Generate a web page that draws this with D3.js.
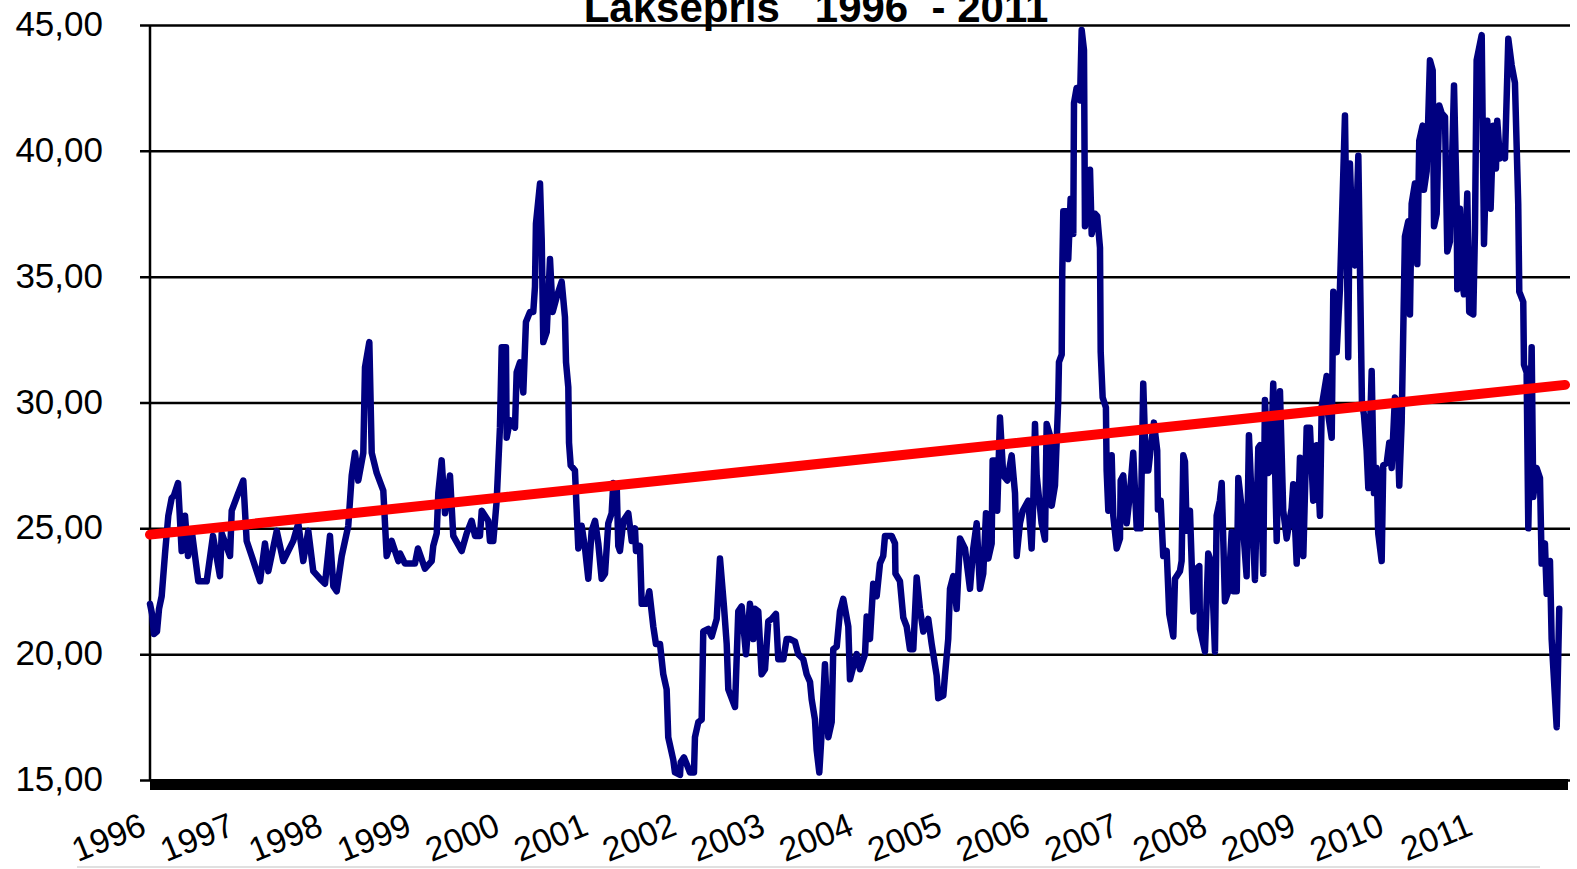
<!DOCTYPE html>
<html>
<head>
<meta charset="utf-8">
<script src="https://cdn.jsdelivr.net/npm/d3@7"></script>
<style>
  body { margin: 0; background: #fff; }
  svg { display: block; font-family: "Liberation Sans", Arial, sans-serif; }
</style>
</head>
<body>
<div id="chart"></div>
<script>
// weekly salmon price (decimal year, NOK/kg)
const dates = [
  1996.000,1996.023,1996.045,1996.079,1996.102,1996.132,1996.170,1996.207,1996.245,1996.271,
  1996.317,1996.358,1996.396,1996.430,1996.472,1996.546,1996.641,1996.712,1996.791,1996.811,
  1996.905,1996.924,1996.998,1997.055,1997.093,1997.150,1997.244,1997.300,1997.338,1997.433,
  1997.507,1997.620,1997.677,1997.733,1997.790,1997.846,1997.922,1997.979,1998.035,1998.073,
  1998.111,1998.168,1998.242,1998.281,1998.318,1998.355,1998.412,1998.431,1998.480,1998.507,
  1998.563,1998.638,1998.676,1998.733,1998.808,1998.827,1998.883,1998.996,1999.030,1999.109,
  1999.185,1999.203,1999.242,1999.260,1999.298,1999.336,1999.392,1999.429,1999.524,1999.581,
  1999.637,1999.675,1999.731,1999.751,1999.825,1999.844,1999.882,1999.920,1999.957,1999.977,
  2000.025,2000.033,2000.071,2000.127,2000.146,2000.184,2000.221,2000.251,2000.297,2000.334,
  2000.353,2000.364,2000.410,2000.429,2000.447,2000.486,2000.523,2000.553,2000.599,2000.655,
  2000.692,2000.704,2000.730,2000.738,2000.757,2000.805,2000.843,2000.881,2000.919,2000.956,
  2000.994,2001.032,2001.069,2001.107,2001.145,2001.182,2001.220,2001.239,2001.277,2001.295,
  2001.314,2001.352,2001.408,2001.447,2001.484,2001.495,2001.540,2001.560,2001.616,2001.646,
  2001.691,2001.721,2001.767,2001.804,2001.842,2001.860,2001.917,2001.936,2001.993,2002.001,
  2002.038,2002.106,2002.151,2002.162,2002.200,2002.238,2002.256,2002.313,2002.351,2002.408,
  2002.445,2002.490,2002.521,2002.539,2002.615,2002.652,2002.690,2002.739,2002.784,2002.822,
  2002.841,2002.878,2002.916,2002.954,2002.991,2003.030,2003.078,2003.104,2003.161,2003.199,
  2003.237,2003.293,2003.330,2003.387,2003.425,2003.463,2003.482,2003.519,2003.538,2003.568,
  2003.595,2003.632,2003.670,2003.708,2003.726,2003.765,2003.802,2003.839,2003.896,2003.915,
  2003.952,2003.991,2004.028,2004.085,2004.104,2004.141,2004.178,2004.217,2004.254,2004.291,
  2004.311,2004.386,2004.424,2004.429,2004.480,2004.518,2004.556,2004.593,2004.631,2004.669,
  2004.706,2004.744,2004.800,2004.839,2004.895,2004.913,2004.970,2004.989,2005.026,2005.046,
  2005.083,2005.121,2005.159,2005.215,2005.272,2005.309,2005.348,2005.385,2005.422,2005.453,
  2005.479,2005.517,2005.528,2005.574,2005.580,2005.611,2005.648,2005.694,2005.743,2005.781,
  2005.800,2005.837,2005.868,2005.931,2005.969,2005.988,2006.007,2006.026,2006.082,2006.120,
  2006.139,2006.176,2006.196,2006.233,2006.270,2006.278,2006.309,2006.315,2006.327,2006.365,
  2006.383,2006.410,2006.440,2006.448,2006.478,2006.516,2006.535,2006.561,2006.572,2006.629,
  2006.648,2006.685,2006.711,2006.742,2006.750,2006.772,2006.809,2006.817,2006.836,2006.874,
  2006.892,2006.931,2006.968,2006.976,2007.005,2007.044,2007.081,2007.118,2007.157,2007.202,
  2007.231,2007.262,2007.288,2007.326,2007.352,2007.389,2007.397,2007.428,2007.457,2007.496,
  2007.525,2007.571,2007.590,2007.646,2007.665,2007.684,2007.703,2007.722,2007.759,2007.797,
  2007.835,2007.865,2007.872,2007.929,2007.966,2008.004,2008.042,2008.061,2008.098,2008.118,
  2008.155,2008.193,2008.231,2008.249,2008.288,2008.306,2008.344,2008.400,2008.426,2008.457,
  2008.494,2008.532,2008.551,2008.588,2008.607,2008.645,2008.672,2008.701,2008.740,2008.777,
  2008.814,2008.853,2008.909,2008.927,2008.966,2009.003,2009.041,2009.079,2009.116,2009.153,
  2009.192,2009.229,2009.249,2009.305,2009.323,2009.362,2009.380,2009.418,2009.455,2009.512,
  2009.549,2009.568,2009.606,2009.625,2009.663,2009.704,2009.727,2009.757,2009.776,
  2009.814,2009.840,2009.870,2009.888,2009.927,2009.945,2009.984,2010.013,2010.040,2010.077,
  2010.096,2010.126,2010.153,2010.190,2010.228,2010.247,2010.266,2010.303,2010.330,2010.352,
  2010.390,2010.405,2010.436,2010.473,2010.504,2010.519,2010.549,2010.578,2010.605,2010.643,
  2010.669,2010.699,2010.745,2010.775,2010.782,2010.812,2010.831,2010.857,2010.895,2010.917,
  2010.963,2010.982,2011.001,2011.058,2011.084,2011.121,2011.159,2011.189,2011.219,2011.234,
  2011.264,2011.284,2011.321,2011.359,2011.397,2011.434,2011.471,2011.483,2011.528,2011.536,
  2011.566,2011.585,2011.623,2011.641,2011.679,2011.717,2011.736,2011.773,2011.793,2011.830,
  2011.849,2011.906,2011.935
]
const prices = [
  22.0,21.6,20.8,20.9,21.8,22.3,24.0,25.5,26.2,26.3,
  26.8,24.1,25.5,23.9,24.9,22.9,22.9,24.7,23.1,24.8,
  23.9,25.7,26.4,26.9,24.5,23.9,22.9,24.4,23.3,24.9,
  23.7,24.5,25.2,23.7,24.9,23.3,23.0,22.8,24.7,22.7,
  22.5,23.9,25.1,27.1,28.0,26.9,28.0,31.4,32.4,28.0,
  27.2,26.5,23.9,24.5,23.7,24.0,23.6,23.6,24.2,23.4,
  23.7,24.3,24.8,26.4,27.7,25.6,27.1,24.7,24.1,24.8,
  25.3,24.7,24.7,25.7,25.3,24.5,24.5,26.1,29.0,32.2,
  32.2,28.6,29.3,29.0,31.2,31.6,30.4,33.2,33.6,33.6,
  34.6,37.1,38.7,36.5,32.4,32.8,35.7,33.6,34.2,34.8,
  33.4,31.6,30.6,28.4,27.5,27.3,24.2,25.1,24.2,23.0,
  24.9,25.3,24.4,23.0,23.2,25.2,25.6,26.8,26.7,24.3,
  24.1,25.3,25.6,24.5,25.0,24.1,24.3,22.0,22.0,22.5,
  21.1,20.4,20.4,19.2,18.6,16.7,15.8,15.3,15.2,15.7,
  15.9,15.3,15.3,16.7,17.3,17.4,20.9,21.0,20.7,21.4,
  23.8,21.9,20.4,18.6,17.9,21.7,21.9,20.0,22.0,20.6,
  21.8,21.7,19.2,19.4,21.3,21.4,21.6,19.8,19.8,20.6,
  20.6,20.5,20.0,19.8,19.2,18.9,18.2,17.4,16.2,15.3,
  16.9,19.6,16.7,17.3,20.2,20.3,21.7,22.2,21.1,19.0,
  19.5,20.0,19.4,20.0,21.5,20.6,22.8,22.3,23.6,23.9,
  24.7,24.7,24.4,23.2,22.9,21.45,21.1,20.2,20.2,23.05,
  21.8,20.9,21.4,20.4,19.15,18.25,18.35,19.15,20.6,22.6,
  23.1,21.8,24.6,24.2,22.6,24.2,25.2,22.6,23.2,25.6,
  23.8,24.4,27.7,27.7,25.7,29.4,27.1,26.9,27.9,26.4,
  23.9,25.2,25.7,26.1,24.2,26.1,29.15,27.1,25.2,24.55,
  29.15,28.7,25.9,26.7,30.1,31.6,31.9,35.1,37.6,37.6,
  35.7,38.1,36.7,41.9,42.5,42.0,44.8,44.0,37.0,39.25,
  36.7,37.5,37.4,36.15,32.0,30.2,29.8,27.3,25.7,27.9,
  25.5,24.2,24.6,26.9,27.1,25.2,26.4,28.0,25.0,25.0,
  30.75,27.3,27.3,28.5,29.2,28.1,25.75,26.1,23.9,24.1,
  21.6,20.7,23.0,23.3,23.7,27.9,27.65,24.9,25.7,21.7,
  23.4,23.5,21.0,20.1,24.0,23.6,20.1,25.5,26.1,26.8,
  22.1,22.5,24.85,22.5,22.5,27.0,25.8,23.1,28.7,26.1,
  22.95,28.2,28.3,23.2,30.1,27.2,27.3,30.75,24.5,30.45,
  25.7,24.6,25.8,26.75,23.6,27.8,23.9,29.0,29.0,26.1,
  28.3,25.5,29.85,31.05,29.5,28.6,34.4,32.0,34.5,41.4,
  31.8,39.5,35.5,35.45,39.8,30.0,29.5,28.1,26.6,
  31.25,26.4,27.4,24.8,23.7,27.5,27.6,28.4,27.4,30.2,
  30.1,26.7,29.2,36.6,37.2,33.5,37.9,38.7,35.5,40.4,
  41.0,38.45,39.2,43.6,43.2,37.0,37.5,41.8,41.5,41.35,
  36.0,36.4,42.6,37.9,34.5,37.7,35.0,34.3,38.3,33.6,
  33.5,36.8,43.6,44.6,36.3,41.2,37.7,41.0,39.3,41.2,
  39.7,39.9,39.7,44.45,43.4,42.7,37.9,34.4,34.0,31.5,
  31.2,25.0,32.2,26.25,27.4,27.0,23.6,24.4,22.4,23.7,
  20.6,17.1,21.8
]
// linear trend, start and end of the period
const trendYears = [1996, 2012]
const trendValues = [24.75, 30.7]
const yearLabels = d3.range(1996, 2012)
const yTicks = [15, 20, 25, 30, 35, 40, 45]

const width = 1577, height = 869
const margins = { top: 25, bottom: 89, left: 150, right: 12 }

const data = dates.map((d, i) => ({ t: d, v: prices[i] }))

const xScale = d3.scaleLinear()
    .domain([1996, 2012])
    .range([margins.left, width - margins.right])
const yScale = d3.scaleLinear()
    .domain([15, 45])
    .range([height - margins.bottom, margins.top])

const nok = d3.formatLocale({ decimal: ",", thousands: ".", grouping: [3], currency: ["", ""] })

const svg = d3.select("#chart")
    .append("svg")
    .attr("width", width)
    .attr("height", height)

// gridlines + y axis
const yAxis = svg.append("g")
    .attr("transform", `translate(${margins.left},0)`)
    .call(d3.axisLeft(yScale).tickValues(yTicks).tickFormat(nok.format(".2f"))
        .tickSize(10).tickPadding(37))
yAxis.select(".domain").remove()
yAxis.selectAll(".tick line")
    .attr("x2", xScale(2012) - margins.left + 5)
    .attr("x1", -10)
    .attr("stroke", "#000")
    .attr("stroke-width", 2.5)
yAxis.selectAll(".tick text")
    .attr("font-size", 35)
    .attr("fill", "#000")
    .attr("font-family", "'Liberation Sans', Arial, sans-serif")
    .attr("dy", "0.3em")

// left axis line
svg.append("line")
    .attr("x1", margins.left).attr("x2", margins.left)
    .attr("y1", yScale(45)).attr("y2", yScale(15))
    .attr("stroke", "#000").attr("stroke-width", 2.5)

// thick bottom axis
svg.append("rect")
    .attr("x", margins.left)
    .attr("y", yScale(15) - 1)
    .attr("width", xScale(2012) - margins.left + 3)
    .attr("height", 11)
    .attr("fill", "#000")

// year labels
svg.selectAll("text.year")
    .data(yearLabels)
    .join("text")
    .attr("class", "year")
    .attr("text-anchor", "end")
    .attr("font-size", 34)
    .attr("transform", d => `translate(${xScale(d) - 2},834) rotate(-22)`)
    .text(d => d)

// price line
const line = d3.line()
    .x(d => xScale(d.t))
    .y(d => yScale(d.v))
svg.append("path")
    .datum(data)
    .attr("fill", "none")
    .attr("stroke", "#000080")
    .attr("stroke-width", 6.5)
    .attr("stroke-linejoin", "round")
    .attr("stroke-linecap", "round")
    .attr("d", line)

// trend line
svg.append("path")
    .datum(trendYears.map((t, i) => ({ t: t, v: trendValues[i] })))
    .attr("fill", "none")
    .attr("stroke", "#ff0000")
    .attr("stroke-width", 10)
    .attr("stroke-linecap", "round")
    .attr("d", line)

// title (cut at the top, like the original)
svg.append("text")
    .attr("x", 816)
    .attr("y", 22)
    .attr("text-anchor", "middle")
    .attr("font-size", 42)
    .attr("font-weight", "bold")
    .style("white-space", "pre")
    .text("Laksepris   1996  - 2011")

svg.append("line")
    .attr("x1", 77).attr("x2", 1540)
    .attr("y1", 867).attr("y2", 867)
    .attr("stroke", "#e0e0e0").attr("stroke-width", 2)
</script>
</body>
</html>
